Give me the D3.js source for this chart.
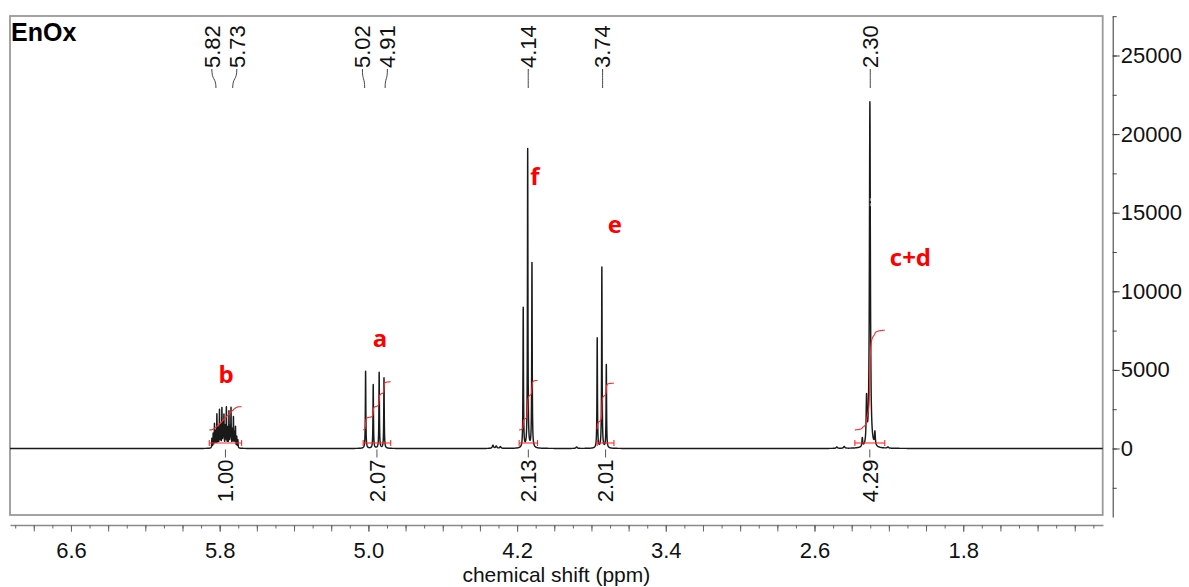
<!DOCTYPE html>
<html>
<head>
<meta charset="utf-8">
<script src="https://cdn.jsdelivr.net/npm/d3@7"></script>
<style>
  html, body { margin: 0; padding: 0; background: #fff; }
  svg { display: block; font-family: "Liberation Sans", Arial, sans-serif; }
</style>
</head>
<body>
<svg id="chart" width="1189" height="587"></svg>
<script>
// ---- Sample and spectrum data ----------------------------------------
const sampleName = "EnOx";

// Resonance lines of each multiplet: [chemical shift (ppm), height]
const linesB = [
  [5.842, 600], [5.835, 900], [5.828, 1500], [5.822, 1000], [5.815, 2100],
  [5.808, 1200], [5.801, 2350], [5.795, 1300], [5.788, 2450], [5.782, 1400],
  [5.777, 2000], [5.770, 1300], [5.764, 2500], [5.757, 1200], [5.750, 2250],
  [5.744, 1200], [5.739, 2450], [5.732, 1100], [5.726, 1900], [5.720, 900],
  [5.715, 1300], [5.708, 700], [5.702, 500]
];
const linesA = [[5.015, 4900], [4.974, 4050], [4.942, 4830], [4.916, 4480]];
const linesF = [[4.167, 8900], [4.143, 19000], [4.120, 11750]];
const linesE = [[3.769, 7000], [3.744, 11500], [3.720, 5300]];
const linesCD = [[2.343, 550], [2.320, 2900], [2.302, 22000], [2.275, 850]];
const linesMinor = [[4.330, 200], [4.312, 150], [4.290, 110], [3.880, 90],
                    [2.480, 90], [2.440, 120], [2.205, 80]];

// Half width at half height (ppm) of the lines in each multiplet
const halfWidthB = 0.0012;
const halfWidthA = 0.0015;
const halfWidthF = 0.0015;
const halfWidthE = 0.0015;
const halfWidthCD = [0.0022, 0.0025, 0.003, 0.0025];
const halfWidthMinor = 0.004;

// Picked peaks (ppm)
const peakPicks = [5.82, 5.73, 5.02, 4.91, 4.14, 3.74, 2.30];

// Integrated regions
const integralFrom = [5.856, 5.028, 4.189, 3.769, 2.383];
const integralTo = [5.682, 4.880, 4.090, 3.679, 2.222];
const integralValues = [1.00, 2.07, 2.13, 2.01, 4.29];

// Proton assignments
const assignNames = ["b", "a", "f", "e", "c+d"];

// Axis ticks
const xTickLabels = [6.6, 5.8, 5.0, 4.2, 3.4, 2.6, 1.8];
const yTickLabels = [0, 5000, 10000, 15000, 20000, 25000];

// ---- Layout ----------------------------------------------------------
const frame = { left: 10, right: 1102.7, top: 16, bottom: 515 };
const assignPos = [[5.766, 4190], [4.938, 6460], [4.104, 16760], [3.674, 13690], [2.084, 11610]];
const integralBase = 1180;      // intensity level where integral curves start
const integralUnit = 1480;      // intensity rise per 1.00 of integral
const integralBar = 350;        // intensity level of the region bars

const svg = d3.select("#chart");
const x = d3.scaleLinear().domain([6.928, 1.048]).range([10, 1103]);
const y = d3.scaleLinear().domain([-4358, 27513]).range([517, 16]);

// ---- Spectrum model --------------------------------------------------
const allLines = [];
linesB.forEach(([c, h]) => allLines.push({ c, h, w: halfWidthB }));
linesA.forEach(([c, h]) => allLines.push({ c, h, w: halfWidthA }));
linesF.forEach(([c, h]) => allLines.push({ c, h, w: halfWidthF }));
linesE.forEach(([c, h]) => allLines.push({ c, h, w: halfWidthE }));
linesCD.forEach(([c, h], i) => allLines.push({ c, h, w: halfWidthCD[i] }));
linesMinor.forEach(([c, h]) => allLines.push({ c, h, w: halfWidthMinor }));

function intensity(ppm) {
  let s = 0;
  for (const l of allLines) {
    const d = ppm - l.c;
    s += l.h * l.w * l.w / (d * d + l.w * l.w);
  }
  return s;
}

// Sampling grid: coarse everywhere, fine around each line
let grid = d3.range(1.048, 6.93, 0.002);
allLines.forEach(l => {
  grid = grid.concat(d3.range(l.c - 0.025, l.c + 0.025, 0.0002));
  grid.push(l.c);
});
grid.sort((a, b) => b - a);
const spectrum = grid.map(p => [p, intensity(p)]);

// ---- Frame and clip --------------------------------------------------
svg.append("defs").append("clipPath").attr("id", "plotClip")
  .append("rect")
  .attr("x", frame.left).attr("y", frame.top)
  .attr("width", frame.right - frame.left).attr("height", frame.bottom - frame.top);

svg.append("rect")
  .attr("x", frame.left).attr("y", frame.top)
  .attr("width", frame.right - frame.left).attr("height", frame.bottom - frame.top)
  .attr("fill", "none").attr("stroke", "#9a9a9a").attr("stroke-width", 1.8);

const plot = svg.append("g").attr("clip-path", "url(#plotClip)");

// Spectrum trace
plot.append("path")
  .datum(spectrum)
  .attr("fill", "none")
  .attr("stroke", "#1a1a1a")
  .attr("stroke-width", 1.45)
  .attr("stroke-linejoin", "round")
  .attr("d", d3.line().x(d => x(d[0])).y(d => y(d[1])));

// ---- Integrals -------------------------------------------------------
const red = "#ff2a2a";
integralFrom.forEach((from, i) => {
  const to = integralTo[i];
  const pts = d3.range(from, to, -0.0002).map(p => [p, intensity(p)]);
  let cum = 0;
  const cumPts = pts.map(([p, v]) => { cum += v; return [p, cum]; });
  const total = cum;
  const curve = cumPts.map(([p, c]) => [p, integralBase + integralUnit * integralValues[i] * c / total]);
  plot.append("path")
    .datum(curve)
    .attr("fill", "none").attr("stroke", red).attr("stroke-width", 1.1)
    .attr("d", d3.line().x(d => x(d[0])).y(d => y(d[1])));

  // region bar with end caps
  const yb = y(integralBar);
  plot.append("line")
    .attr("x1", x(from)).attr("x2", x(to)).attr("y1", yb).attr("y2", yb)
    .attr("stroke", red).attr("stroke-width", 1.1);
  [from, to].forEach(p => {
    plot.append("line")
      .attr("x1", x(p)).attr("x2", x(p)).attr("y1", yb - 3).attr("y2", yb + 3)
      .attr("stroke", red).attr("stroke-width", 1.1);
  });

  // value label below the baseline
  const cx = (x(from) + x(to)) / 2;
  plot.append("line")
    .attr("x1", cx).attr("x2", cx).attr("y1", y(0) + 1).attr("y2", y(0) + 9)
    .attr("stroke", "#555").attr("stroke-width", 1);
  svg.append("text")
    .attr("transform", `translate(${cx},${y(0) + 11}) rotate(-90)`)
    .attr("text-anchor", "end")
    .attr("dy", "0.35em")
    .attr("font-size", 22)
    .attr("fill", "#111")
    .text(d3.format(".2f")(integralValues[i]));
});

// ---- Assignment labels -----------------------------------------------
assignNames.forEach((name, i) => {
  svg.append("text")
    .attr("x", x(assignPos[i][0])).attr("y", y(assignPos[i][1]))
    .attr("text-anchor", "middle")
    .attr("font-family", "'Open Sans', 'Noto Sans', sans-serif")
    .attr("font-weight", "bold")
    .attr("font-size", 24)
    .attr("fill", "#ff0000")
    .text(name);
});

// ---- Peak picking labels ---------------------------------------------
const minGap = 25;
const picks = peakPicks.map(p => ({ p, px: x(p) })).sort((a, b) => a.px - b.px);
const clusters = [];
picks.forEach(d => {
  const last = clusters[clusters.length - 1];
  if (last && d.px - last[last.length - 1].px < minGap) last.push(d);
  else clusters.push([d]);
});
clusters.forEach(cl => {
  const mean = d3.mean(cl, d => d.px);
  cl.forEach((d, k) => { d.lx = cl.length > 1 ? mean + (k - (cl.length - 1) / 2) * minGap : d.px; });
});

const labelEnd = 68, leaderEnd = 88;
picks.forEach(d => {
  svg.append("text")
    .attr("transform", `translate(${d.lx},${labelEnd}) rotate(-90)`)
    .attr("text-anchor", "start")
    .attr("dy", "0.35em")
    .attr("font-size", 22)
    .attr("fill", "#111")
    .text(d3.format(".2f")(d.p));
  const mid = (labelEnd + leaderEnd) / 2;
  svg.append("path")
    .attr("d", `M${d.lx},${labelEnd + 1} C${d.lx},${mid + 3} ${d.px},${mid - 1} ${d.px},${leaderEnd}`)
    .attr("fill", "none").attr("stroke", "#444").attr("stroke-width", 1);
  const top = intensity(d.p);
  if (top > 10000) {
    const yt = y(top);
    svg.append("line")
      .attr("x1", d.px).attr("x2", d.px)
      .attr("y1", Math.max(leaderEnd + 2, yt - 10)).attr("y2", yt - 2)
      .attr("stroke", "#aaa").attr("stroke-width", 1).attr("stroke-dasharray", "3,2");
  }
});

// ---- X axis ----------------------------------------------------------
const minorX = d3.range(69, 10, -1).map(i => i / 10);
const majorX = d3.range(68, 10, -2).map(i => i / 10);
const gx = svg.append("g").attr("transform", "translate(0,525)");
gx.append("g").call(d3.axisBottom(x).tickValues(minorX).tickSize(3.5).tickFormat("").tickSizeOuter(0));
gx.append("g").call(d3.axisBottom(x).tickValues(majorX).tickSize(6.5).tickFormat("").tickSizeOuter(0))
  .select(".domain").remove();
gx.append("g").call(d3.axisBottom(x).tickValues(xTickLabels).tickSize(6.5).tickPadding(10.5)
    .tickFormat(d3.format(".1f")).tickSizeOuter(0))
  .select(".domain").remove();
gx.selectAll(".domain").attr("stroke", "#8a8a8a").attr("stroke-width", 1.5);
gx.selectAll(".tick line").attr("stroke", "#666");
gx.selectAll("text").attr("font-size", 22).attr("fill", "#111")
  .attr("font-family", "'Liberation Sans', Arial, sans-serif");

svg.append("text")
  .attr("x", (frame.left + frame.right) / 2).attr("y", 581.5)
  .attr("text-anchor", "middle")
  .attr("font-size", 21).attr("fill", "#111")
  .text("chemical shift (ppm)");

// ---- Y axis ----------------------------------------------------------
const minorY = d3.range(-2500, 27501, 2500);
const gy = svg.append("g").attr("transform", "translate(1112.7,0)");
gy.append("g").call(d3.axisRight(y).tickValues(minorY).tickSize(4).tickFormat("").tickSizeOuter(0));
gy.append("g").call(d3.axisRight(y).tickValues(yTickLabels).tickSize(7).tickPadding(1)
    .tickFormat(d3.format("d")).tickSizeOuter(0))
  .select(".domain").remove();
gy.selectAll(".domain").attr("stroke", "#333");
gy.selectAll(".tick line").attr("stroke", "#444");
gy.selectAll("text").attr("font-size", 22).attr("fill", "#111")
  .attr("font-family", "'Liberation Sans', Arial, sans-serif");

// ---- Sample name -----------------------------------------------------
svg.append("text")
  .attr("x", 11).attr("y", 40.5)
  .attr("font-size", 25).attr("font-weight", "bold").attr("fill", "#000")
  .text(sampleName);
</script>
</body>
</html>
